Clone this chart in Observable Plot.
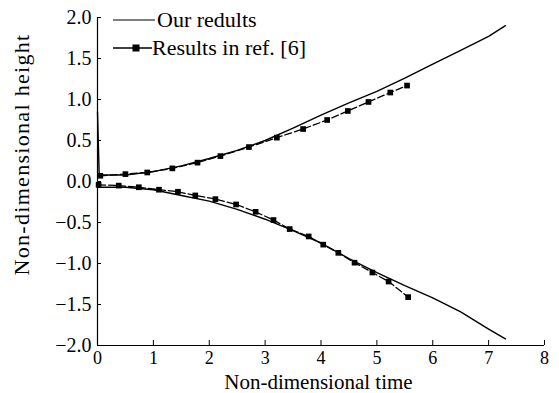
<!DOCTYPE html>
<html>
<head>
<meta charset="utf-8">
<script src="https://cdn.jsdelivr.net/npm/d3@7"></script>
<script src="https://cdn.jsdelivr.net/npm/@observablehq/plot@0.6"></script>
<style>
  html, body { margin: 0; padding: 0; background: #fff; }
  svg { font-family: "Liberation Serif", "Times New Roman", serif; display: block; }
  #xtitle {
    width: 559px; box-sizing: border-box; padding-left: 93px; padding-right: 15px;
    text-align: center; font-family: "Liberation Serif", "Times New Roman", serif;
    font-size: 21px; line-height: 22px; height: 22px; color: #000;
  }
</style>
</head>
<body>
<div id="chart"></div>
<div id="xtitle"></div>
<script>
// Tick labels
const xTicks = [0, 1, 2, 3, 4, 5, 6, 7, 8];
const yTicks = [-2.0, -1.5, -1.0, -0.5, 0.0, 0.5, 1.0, 1.5, 2.0];

// Series: "Our redults" (solid)
const oursUpperT = [0, 0.03, 0.5, 1.0, 1.5, 2.0, 2.5, 3.0, 3.5, 4.0, 4.5, 5.0, 5.5, 6.0, 6.5, 7.0, 7.3];
const oursUpperH = [0.85, 0.08, 0.08, 0.12, 0.19, 0.28, 0.38, 0.50, 0.65, 0.81, 0.96, 1.10, 1.26, 1.43, 1.60, 1.77, 1.90];
const oursLowerT = [0, 0.5, 1.0, 1.5, 2.0, 2.5, 3.0, 3.5, 4.0, 4.5, 5.0, 5.5, 6.0, 6.5, 7.0, 7.3];
const oursLowerH = [-0.07, -0.07, -0.10, -0.17, -0.24, -0.34, -0.46, -0.60, -0.75, -0.94, -1.11, -1.27, -1.42, -1.59, -1.80, -1.92];

// Series: "Results in ref. [6]" (dashed with squares)
const refUpperT = [0.05, 0.5, 0.89, 1.34, 1.79, 2.2, 2.71, 3.21, 3.68, 4.11, 4.48, 4.85, 5.24, 5.54];
const refUpperH = [0.07, 0.09, 0.11, 0.16, 0.23, 0.31, 0.42, 0.535, 0.64, 0.75, 0.86, 0.97, 1.085, 1.17];
const refLowerT = [0.02, 0.38, 0.74, 1.10, 1.44, 1.75, 2.11, 2.48, 2.83, 3.15, 3.44, 3.78, 4.04, 4.31, 4.60, 4.92, 5.21, 5.56];
const refLowerH = [-0.04, -0.05, -0.07, -0.10, -0.125, -0.17, -0.215, -0.28, -0.37, -0.47, -0.58, -0.67, -0.77, -0.87, -0.99, -1.11, -1.22, -1.41];

const legendLabels = ["Our redults", "Results in ref. [6]"];
const xLabel = "Non-dimensional time";
const yLabel = "Non-dimensional height";

const toPts = (ts, hs, g) => ts.map((t, i) => ({t, h: hs[i], g}));
const ours = [...toPts(oursUpperT, oursUpperH, "up"), ...toPts(oursLowerT, oursLowerH, "lo")];
const refs = [...toPts(refUpperT, refUpperH, "up"), ...toPts(refLowerT, refLowerH, "lo")];

const W = 559, H = 371;
const mL = 97, mR = 15, mT = 17, mB = 26;
const plotW = W - mL - mR, plotH = H - mT - mB;

const chart = Plot.plot({
  width: W,
  height: H,
  marginLeft: mL,
  marginRight: mR,
  marginTop: mT,
  marginBottom: mB,
  style: {fontFamily: "Liberation Serif", background: "#fff", color: "#000", overflow: "visible"},
  x: {domain: [0, 8]},
  y: {domain: [-2, 2]},
  marks: [
    Plot.axisX(xTicks, {tickSize: 0, tickPadding: 6, fontSize: 18, label: null, tickFormat: d3.format("d")}),
    Plot.axisY(yTicks, {tickSize: 0, tickPadding: 6, fontSize: 20, label: null, tickFormat: d3.format(".1f")}),
    Plot.tickX(xTicks, {x: d => d, insetTop: plotH - 5, stroke: "#000", strokeWidth: 1}),
    Plot.tickY(yTicks, {y: d => d, insetRight: plotW - 4, stroke: "#000", strokeWidth: 1}),
    Plot.ruleX([0], {stroke: "#000", strokeWidth: 1.2}),
    Plot.ruleY([-2], {stroke: "#000", strokeWidth: 1.2}),
    Plot.line(ours, {x: "t", y: "h", z: "g", stroke: "#000", strokeWidth: 1.4}),
    Plot.line(refs, {x: "t", y: "h", z: "g", stroke: "#000", strokeWidth: 1.3, strokeDasharray: "7,3"}),
    Plot.dot(refs, {x: "t", y: "h", symbol: "square", r: 3.2, fill: "#000", stroke: "none"}),
    Plot.text([yLabel], {frameAnchor: "left", dx: -76, dy: -27, rotate: -90, textAnchor: "middle", fontSize: 22, fill: "#000", text: d => d})
  ]
});

// Legend (inside the frame, top-left)
const svg = d3.select(chart);
const lg = svg.append("g").attr("font-family", "Liberation Serif").attr("font-size", 22).attr("fill", "#000").attr("text-anchor", "start");
lg.append("line").attr("x1", 113).attr("x2", 155).attr("y1", 20).attr("y2", 20).attr("stroke", "#000").attr("stroke-width", 1);
lg.append("text").attr("x", 157).attr("y", 20).attr("dy", "0.32em").text(legendLabels[0]);
lg.append("line").attr("x1", 113).attr("x2", 152).attr("y1", 48).attr("y2", 48).attr("stroke", "#000").attr("stroke-width", 1.3);
lg.append("rect").attr("x", 132.5).attr("y", 44.5).attr("width", 7).attr("height", 7).attr("fill", "#000");
lg.append("text").attr("x", 152).attr("y", 48).attr("dy", "0.32em").text(legendLabels[1]);

svg.selectAll("text").filter(function(){ return this.textContent === yLabel; }).attr("letter-spacing", "1.3px");

document.getElementById("chart").appendChild(chart);
document.getElementById("xtitle").textContent = xLabel;
</script>
</body>
</html>
